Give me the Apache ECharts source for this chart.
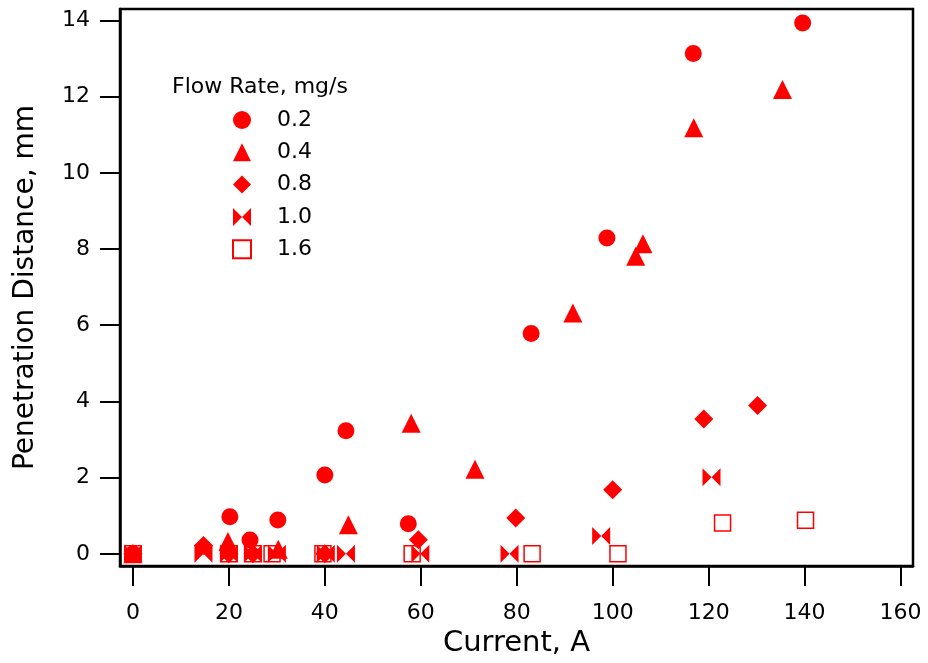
<!DOCTYPE html>
<html>
<head>
<meta charset="utf-8">
<script src="https://cdn.jsdelivr.net/npm/echarts@6/dist/echarts.min.js"></script>
<style>
  html, body { margin: 0; padding: 0; background: #fff; }
  #chart { width: 928px; height: 663px; }
</style>
</head>
<body>
<div id="chart"></div>
<script>
// Penetration distance vs. arc current, one series per propellant flow rate
const flowRates = ['0.2', '0.4', '0.8', '1.0', '1.6'];

const current02 = [0, 20.2, 24.4, 30.2, 40, 44.4, 57.4, 83, 98.8, 116.8, 139.6];
const dist02    = [0, 0.97, 0.36, 0.89, 2.07, 3.23, 0.79, 5.78, 8.29, 13.13, 13.93];

const current04 = [0, 19.8, 30.3, 44.9, 58, 71.3, 91.7, 104.8, 106.3, 116.9, 135.4];
const dist04    = [0, 0.32, 0.12, 0.76, 3.43, 2.22, 6.32, 7.81, 8.14, 11.18, 12.19];

const current08 = [0, 14.7, 20, 25, 40, 59.5, 79.8, 100, 119, 130.2];
const dist08    = [0, 0.22, 0, 0, 0, 0.37, 0.94, 1.68, 3.54, 3.89];

const current10 = [0, 14.7, 20, 25, 30, 40.2, 44.4, 59.9, 78.5, 97.6, 120.6];
const dist10    = [0, 0, 0, 0, 0, 0, 0, 0, 0, 0.47, 2.01];

const current16 = [0, 20, 25, 29, 39.6, 58.2, 83.2, 101.1, 122.9, 140.2];
const dist16    = [0, 0, 0, 0, 0, 0, 0, 0, 0.81, 0.88];

const xTicks = [0, 20, 40, 60, 80, 100, 120, 140, 160];
const yTicks = [0, 2, 4, 6, 8, 10, 12, 14];

const RED = '#ff0000';
const FONT = 'DejaVu Sans';
const bowtie = 'path://M0,0 L10,10 L0,20 Z M20,0 L10,10 L20,20 Z';

function pairs(xs, ys) { return xs.map((x, i) => [x, ys[i]]); }

const seriesDefs = [
  { name: flowRates[0], data: pairs(current02, dist02), symbol: 'circle', size: 17 },
  { name: flowRates[1], data: pairs(current04, dist04), symbol: 'triangle', size: 19 },
  { name: flowRates[2], data: pairs(current08, dist08), symbol: 'diamond', size: 19 },
  { name: flowRates[3], data: pairs(current10, dist10), symbol: bowtie, size: [18, 18] },
  { name: flowRates[4], data: pairs(current16, dist16), symbol: 'rect', size: 16, open: true }
];

const chart = echarts.init(document.getElementById('chart'), null, { renderer: 'canvas' });

const option = {
  backgroundColor: '#fff',
  animation: false,
  title: {
    text: 'Flow Rate, mg/s',
    left: 172, top: 76, padding: 0,
    textStyle: { fontFamily: FONT, fontSize: 22, fontWeight: 'normal', color: '#000' }
  },
  legend: {
    orient: 'vertical',
    left: 232, top: 109, padding: 0,
    itemWidth: 18, itemHeight: 18, itemGap: 10.3,
    data: flowRates,
    textStyle: { fontFamily: FONT, fontSize: 22, color: '#000', padding: [0, 0, 0, 21] }
  },
  grid: {
    left: 120, right: 15, top: 9, bottom: 97,
    show: true, borderColor: '#000', borderWidth: 2.5, backgroundColor: 'transparent'
  },
  xAxis: {
    type: 'value', min: -2.7, max: 162.6,
    name: 'Current, A', nameLocation: 'middle', nameGap: 59,
    nameTextStyle: { fontFamily: FONT, fontSize: 29, color: '#000' },
    axisLine: { onZero: false, lineStyle: { color: '#000', width: 2.5 } },
    axisTick: { show: true, length: 20, customValues: xTicks, lineStyle: { color: '#000', width: 2 } },
    axisLabel: { customValues: xTicks, margin: 36, fontFamily: FONT, fontSize: 22, color: '#000' },
    splitLine: { show: false }
  },
  yAxis: {
    type: 'value', min: -0.32, max: 14.3,
    name: 'Penetration Distance, mm', nameLocation: 'middle', nameGap: 80,
    nameTextStyle: { fontFamily: FONT, fontSize: 28, color: '#000' },
    axisLine: { onZero: false, lineStyle: { color: '#000', width: 2.5 } },
    axisTick: { show: true, length: 20, customValues: yTicks, lineStyle: { color: '#000', width: 2 } },
    axisLabel: { customValues: yTicks, margin: 30, fontFamily: FONT, fontSize: 22, color: '#000' },
    splitLine: { show: false }
  },
  series: seriesDefs.map(d => ({
    type: 'scatter',
    name: d.name,
    data: d.data,
    symbol: d.symbol,
    symbolSize: d.size,
    itemStyle: d.open
      ? { color: 'rgba(255,255,255,0)', borderColor: RED, borderWidth: 1.5, opacity: 1 }
      : { color: RED, borderWidth: 0, opacity: 1 }
  }))
};

chart.setOption(option);
</script>
</body>
</html>
